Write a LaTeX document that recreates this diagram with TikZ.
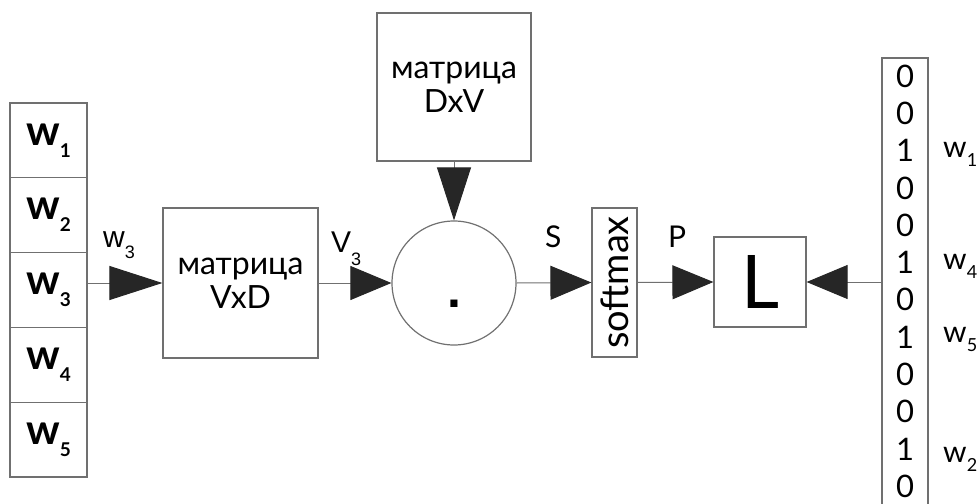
\documentclass[tikz,border=0pt]{standalone}
\usepackage{fontspec}
\setmainfont{Lato}
\newfontfamily\arialf{Liberation Sans}
\usetikzlibrary{arrows.meta}
\definecolor{edge}{HTML}{707070}
\definecolor{tipc}{HTML}{262626}
\tikzset{
  box/.style={draw=edge, line width=1.2pt, inner sep=0pt, align=center},
  bigarr/.style={-{Triangle[length=53pt,width=34pt,color=tipc]}, draw=edge, line width=1pt},
  smallarr/.style={-{Triangle[length=41pt,width=34pt,color=tipc]}, draw=edge, line width=1pt},
  lbl/.style={anchor=base west, inner sep=0pt},
  mtx/.style={box, font=\fontsize{32}{34}\selectfont},
  cellw/.style={box, minimum width=77pt, minimum height=74.8pt, font=\fontsize{42}{42}\selectfont\bfseries},
  digit/.style={inner sep=0pt, font=\fontsize{31}{31}\selectfont},
  arrlbl/.style={lbl, font=\fontsize{30}{30}\selectfont},
}
\begin{document}
\begin{tikzpicture}[x=1pt,y=-1pt]
\useasboundingbox (0,0) rectangle (979,503);
% word stack
\foreach \i/\y in {1/140.4,2/215.2,3/290,4/364.8,5/439.6}{
  \node[cellw] (c\i) at (48.5,\y) {w\raisebox{-12pt}{\fontsize{19}{19}\selectfont\bfseries \i}};
}
% matrices
\node[mtx, minimum width=155pt, minimum height=150pt] (vxd) at (240.5,283) {матрица\\VxD};
\node[mtx, minimum width=154pt, minimum height=148pt] (dxv) at (454,87) {матрица\\DxV};
% dot product circle
\node[draw=edge, line width=1.2pt, circle, minimum size=124pt, inner sep=0pt] (circ) at (454,283) {};
\node[inner sep=0pt, font=\arialf\fontsize{50}{50}\selectfont\bfseries] (dotc) at (454,304) {.};
% softmax
\node[box, minimum width=45pt, minimum height=149pt] (smax) at (614.5,282.5) {};
\node[inner sep=0pt, rotate=90, font=\fontsize{38}{38}\selectfont] (smaxt) at (smax.center) {softmax};
% loss
\node[box, minimum width=92pt, minimum height=90pt, font=\fontsize{74}{74}\selectfont] (L) at (760,282) {L};
% one-hot vector
\node[box, minimum width=46pt, minimum height=460pt] (vec) at (905,288) {};
\foreach \d [count=\k from 0] in {0,0,1,0,0,1,0,1,0,0,1,0}{
  \node[digit] (d\k) at (905,{76+37.3*\k}) {\d};
}
% connectors
\draw[bigarr] (c3.east |- vxd.west) -- (vxd.west);
\draw[smallarr] (vxd.east) -- (circ.west);
\draw[bigarr] (dxv.south) -- (circ.north);
\draw[smallarr] (circ.east) -- (smax.west);
\draw[smallarr] (smax.east) -- (L.west);
\draw[smallarr] (L.east -| vec.west) -- (L.east);
% arrow labels
\node[arrlbl, font=\arialf\fontsize{30}{30}\selectfont] (lw3) at (103,247) {w\raisebox{-11pt}{\fontsize{18}{18}\selectfont 3}};
\node[arrlbl, font=\arialf\fontsize{30}{30}\selectfont] (lv3) at (331,252) {V\raisebox{-13pt}{\fontsize{18}{18}\selectfont 3}};
\node[arrlbl] (ls) at (545,247) {S};
\node[arrlbl] (lp) at (668,247) {P};
% right labels
\node[arrlbl] (r1) at (943,157) {w\raisebox{-9pt}{\fontsize{18}{18}\selectfont 1}};
\node[arrlbl] (r4) at (943,269) {w\raisebox{-9pt}{\fontsize{18}{18}\selectfont 4}};
\node[arrlbl] (r5) at (943,342) {w\raisebox{-9pt}{\fontsize{18}{18}\selectfont 5}};
\node[arrlbl] (r2) at (943,462) {w\raisebox{-9pt}{\fontsize{18}{18}\selectfont 2}};
\end{tikzpicture}
\end{document}
